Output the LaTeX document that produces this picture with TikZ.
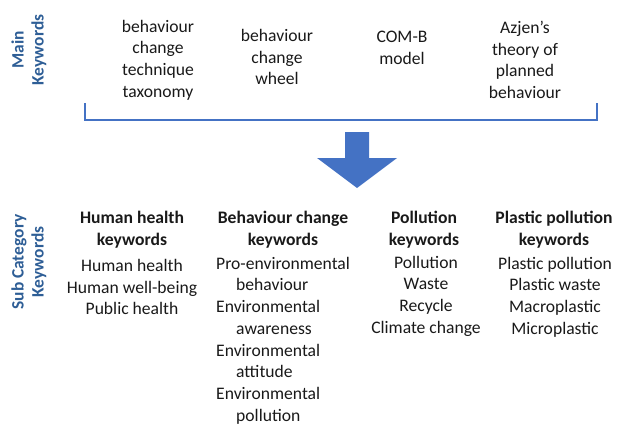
\documentclass[tikz,border=0pt]{standalone}
\usepackage{fontspec}
\setmainfont{Carlito}
\usetikzlibrary{positioning}
\definecolor{keyblue}{RGB}{46,94,150}
\definecolor{arrowblue}{RGB}{68,114,196}
\definecolor{ink}{RGB}{25,25,25}
\tikzset{%
  keyword/.style={align=center, inner sep=0pt, text=ink, font=\fontsize{17.6}{21.7}\selectfont},% plain keyword text
  heading/.style={keyword, font=\fontsize{17.6}{22.5}\selectfont\bfseries},% sub category heading
  sidelabel/.style={rotate=90, align=center, inner sep=0pt, text=keyblue,
    font=\fontsize{17.4}{20}\selectfont\bfseries},% row label at the left
  brace/.style={draw=arrowblue, line width=1.3pt},% bracket under main keywords
  bigarrow/.style={fill=arrowblue, draw=none}% block arrow down
}
\newcommand*{\indentline}{\hspace*{20pt}}

\begin{document}
\begin{tikzpicture}[x=1pt, y=-1pt]
\useasboundingbox (0,0) rectangle (617,425);

\node[sidelabel] (mainlbl) at (29,50) {Main\\Keywords};
\node[sidelabel] (sublbl) at (29,262) {Sub Category\\Keywords};

% main keywords
\node[keyword] (bctt) at (158,60) {behaviour\\change\\technique\\taxonomy};
\node[keyword] (bcw) at (277,57) {behaviour\\change\\wheel};
\node[keyword] (comb) at (402,48) {COM-B\\model};
\node[keyword] (tpb) at (525,60) {Azjen's\\theory of\\planned\\behaviour};

\coordinate (bl) at (85,103);
\coordinate (br) at (597,103);
\draw[brace] (bl) -- ++(0,17) -| (br);

\coordinate (tip) at (357,188);
\fill[bigarrow] (tip) -- ++(40,-30) -- ++(-28,0) -- ++(0,-26) -- ++(-24,0)
  -- ++(0,26) -- ++(-28,0) -- cycle;

% sub category keywords
\node[heading] (hhhead) at (132,229.5) {Human health\\keywords};
\node[keyword] (hhlist) at (132,287) {Human health\\Human well-being\\Public health};

\node[heading] (bchead) at (283,229.5) {Behaviour change\\keywords};
\node[keyword, align=left, anchor=west] (bclist) at (216,340.5) {Pro-environmental\\
  \indentline behaviour\\Environmental\\\indentline awareness\\Environmental\\
  \indentline attitude\\Environmental\\\indentline pollution};

\node[heading] (polhead) at (424,229.5) {Pollution\\keywords};
\node[keyword] (pollist) at (426,296) {Pollution\\Waste\\Recycle\\Climate change};

\node[heading] (plashead) at (554,229.5) {Plastic pollution\\keywords};
\node[keyword] (plaslist) at (555,297) {Plastic pollution\\Plastic waste\\Macroplastic\\Microplastic};

\end{tikzpicture}
\end{document}
